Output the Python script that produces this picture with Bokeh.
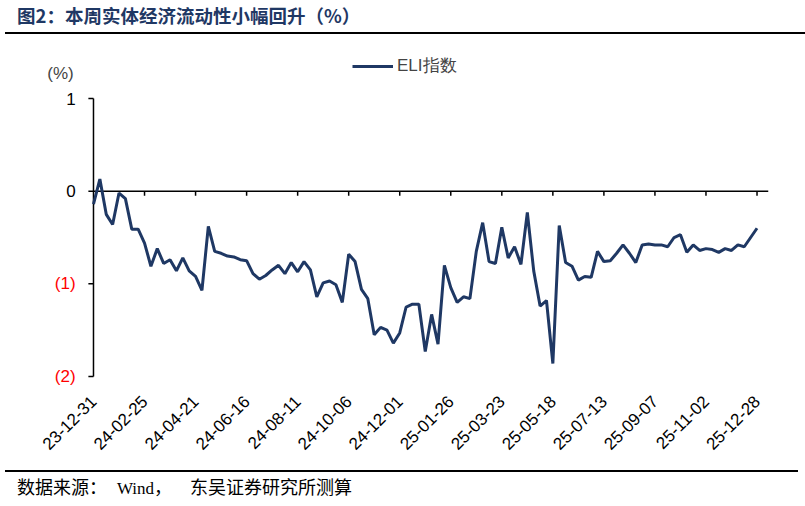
import numpy as np
from bokeh.plotting import figure
from bokeh.models import (Range1d, FixedTicker, Label, LabelSet,
                          ColumnDataSource, Legend, LegendItem, Div)
from bokeh.core.properties import value
from bokeh.layouts import column
from bokeh.embed import file_html
from bokeh.resources import INLINE

# weekly ELI index, 2023-12-31 .. 2025-12-28
eli = [-0.14, 0.13, -0.25, -0.36, -0.02, -0.08, -0.41, -0.41, -0.56, -0.81,
       -0.62, -0.78, -0.74, -0.86, -0.72, -0.86, -0.92, -1.07, -0.38, -0.65,
       -0.67, -0.70, -0.71, -0.74, -0.75, -0.89, -0.95, -0.91, -0.85, -0.80,
       -0.89, -0.77, -0.87, -0.76, -0.85, -1.14, -0.99, -0.97, -1.01, -1.20,
       -0.68, -0.76, -1.06, -1.16, -1.55, -1.47, -1.50, -1.64, -1.53, -1.25,
       -1.22, -1.22, -1.73, -1.33, -1.65, -0.80, -1.04, -1.20, -1.14, -1.16,
       -0.65, -0.34, -0.76, -0.78, -0.39, -0.72, -0.60, -0.79, -0.23, -0.86,
       -1.24, -1.18, -1.86, -0.37, -0.77, -0.81, -0.96, -0.92, -0.93, -0.65,
       -0.76, -0.75, -0.67, -0.58, -0.67, -0.77, -0.58, -0.57, -0.58, -0.58,
       -0.60, -0.50, -0.47, -0.66, -0.58, -0.64, -0.62, -0.63, -0.66, -0.62,
       -0.64, -0.58, -0.60, -0.50, -0.40]
tick_labels = ["23-12-31", "24-02-25", "24-04-21", "24-06-16", "24-08-11",
               "24-10-06", "24-12-01", "25-01-26", "25-03-23", "25-05-18",
               "25-07-13", "25-09-07", "25-11-02", "25-12-28"]
y_ticks = [1, 0, -1, -2]
y_labels = ["1", "0", "(1)", "(2)"]

weeks = np.arange(len(eli))
tick_pos = weeks[::8]
navy = "#1F3864"
font = "Liberation Sans"
x_end = 105.8

# the frame is widened to the left and upwards so that the hand-drawn y axis,
# its labels and the legend are not clipped
p = figure(width=805, height=436, x_range=Range1d(-11.44, x_end), y_range=Range1d(-2.097, 1.518),
           output_backend="svg", toolbar_location=None, margin=0,
           min_border_left=20, min_border_right=37, min_border_top=16, min_border_bottom=85)
p.outline_line_color = None
p.grid.grid_line_color = None
p.yaxis.visible = False

# zero line with downward ticks
p.segment(x0=[0], y0=[0], x1=[x_end], y1=[0], line_color="black", line_width=1.5)
p.segment(x0=tick_pos[1:], y0=0, x1=tick_pos[1:], y1=-0.05, line_color="black", line_width=1.5)
# y axis
p.segment(x0=[0], y0=[min(y_ticks)], x1=[0], y1=[max(y_ticks)], line_color="black", line_width=1.5)
p.segment(x0=0, y0=y_ticks, x1=-0.8, y1=y_ticks, line_color="black", line_width=1.5)

r = p.line(weeks, eli, line_color=navy, line_width=3)

p.xaxis.ticker = FixedTicker(ticks=list(tick_pos))
p.xaxis.major_label_overrides = {int(t): s for t, s in zip(tick_pos, tick_labels)}
p.xaxis.major_label_orientation = np.pi / 4
p.xaxis.axis_line_color = None
p.xaxis.major_tick_line_color = None
p.xaxis.minor_tick_line_color = None
p.xaxis.major_label_standoff = 7
p.xaxis.major_label_text_font = font
p.xaxis.major_label_text_font_size = "17px"
p.xaxis.major_label_text_color = "black"

src = ColumnDataSource(dict(x=[-2.8] * len(y_ticks), y=y_ticks, text=y_labels,
                            color=["black" if v >= 0 else "red" for v in y_ticks]))
p.add_layout(LabelSet(x="x", y="y", text="text", source=src, text_color="color",
                      text_align="right", text_baseline="middle",
                      text_font=value(font), text_font_size=value("17px")))
p.add_layout(Label(x=-5.17, y=1.273, text="(%)", text_align="center", text_baseline="middle",
                   text_font=font, text_font_size="17px"))

legend = Legend(items=[LegendItem(label="ELI指数", renderers=[r])], location=(332, 308),
                glyph_width=41, glyph_height=20, label_text_font=font, label_text_font_size="17px",
                border_line_color=None, background_fill_alpha=0, padding=0, margin=0,
                label_standoff=4)
p.add_layout(legend)

title = Div(text="图2：本周实体经济流动性小幅回升（%）", width=800, height=34, margin=(0, 0, 0, 5),
            styles={"font-size": "18.5px", "font-weight": "bold", "color": navy,
                    "font-family": "'Noto Sans CJK SC'", "line-height": "20px",
                    "border-bottom": "2px solid black", "padding-left": "12px", "padding-top": "5px",
                    "box-sizing": "border-box"})
footer = Div(text="数据来源：<span style='margin-left:10px;font-size:17px'>Wind</span>，"
                  "<span style='margin-left:18px'>东吴证券研究所测算</span>",
             width=793, height=36, margin=(0, 0, 0, 5),
             styles={"font-size": "18px", "color": "black", "line-height": "20px",
                     "font-family": "'Liberation Serif', 'Noto Sans CJK SC'",
                     "border-top": "2px solid black", "padding-left": "12px", "padding-top": "6px",
                     "box-sizing": "border-box"})

layout = column(title, p, footer, spacing=0)
open("out.html", "w").write(file_html(layout, INLINE))
